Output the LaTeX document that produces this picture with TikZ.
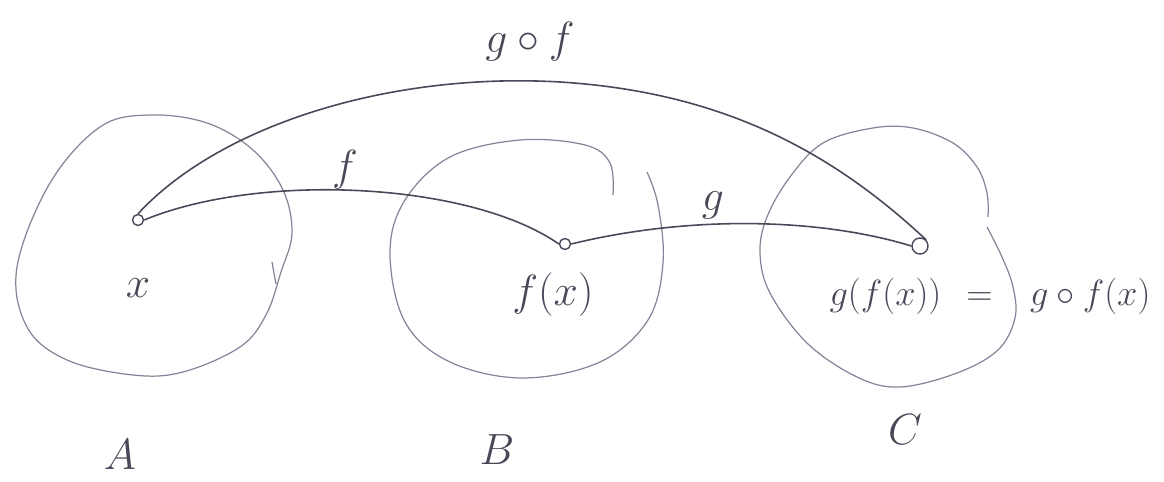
\documentclass[tikz,border=0pt]{standalone}
\begin{document}
\begin{tikzpicture}[x=0.02cm,y=-0.02cm,
  blob/.style={draw=blobgray,line width=0.7pt},
  arc/.style={draw=inkgray,line width=0.9pt},
  pt/.style={circle,draw=inkgray,line width=0.8pt,inner sep=0pt,minimum size=0.22cm},
  lbl/.style={text=inkgray,font=\fontsize{25}{27}\selectfont,inner sep=0pt}]
\definecolor{blobgray}{HTML}{85859A}
\definecolor{inkgray}{HTML}{484858}
\useasboundingbox (0,0) rectangle (1164,482);
% blob A
\draw[blob] plot[smooth cycle,tension=0.6] coordinates {(150,115) (207,123) (253,150) (283,190) (292,233) (281,272) (266,315) (240,347) (183,372) (133,375) (67,360) (27,327) (17,267) (50,183) (100,127)};
\draw[blob] (272,262) -- (276,284);
% blob B (open stroke)
\draw[blob] plot[smooth,tension=0.6] coordinates {(613,195) (610,163) (585,145) (520,140) (450,157) (405,200) (390,253) (405,322) (450,362) (523,378) (600,362) (648,320) (663,263) (658,205) (647,172)};
% blob C (nearly closed stroke)
\draw[blob] plot[smooth,tension=0.6] coordinates {(988,217) (987,193) (977,167) (953,143) (913,128) (873,128) (823,143) (790,177) (767,217) (760,253) (770,293) (807,343) (857,377) (900,387) (957,373) (998,350) (1015,318) (1013,287) (1002,257) (987,227)};
% points
\node[pt] (px) at (138,220) {};
\node[pt] (pfx) at (565,244) {};
\node[pt,minimum size=0.32cm] (pgfx) at (920,246) {};
% connectors
\draw[arc] (px.east) .. controls (260,172) and (470,182) .. (pfx.west);
\draw[arc] (pfx.east) .. controls (690,215) and (820,218) .. (pgfx.west);
\draw[arc] (px.north) .. controls (220,125) and (390,72) .. (560,82)
  .. controls (720,92) and (830,150) .. (pgfx.north east);
% labels
\node[lbl] (lgf) at (530,42) {$g\circ f$};
\node[lbl] (lf) at (345,170) {$f$};
\node[lbl] (lg) at (713,205) {$g$};
\node[lbl] (lx) at (138,288) {$x$};
\node[lbl] (lfx) at (553,295) {$f(x)$};
\node[lbl,font=\fontsize{22}{24}\selectfont] (lgfx) at (990,296) {$g(f(x))$\hspace{0.5cm}$=$\hspace{0.75cm}$g\circ f(x)$};
\node[lbl] (lA) at (120,455) {$A$};
\node[lbl] (lB) at (497,450) {$B$};
\node[lbl] (lC) at (905,430) {$C$};
\end{tikzpicture}
\end{document}
